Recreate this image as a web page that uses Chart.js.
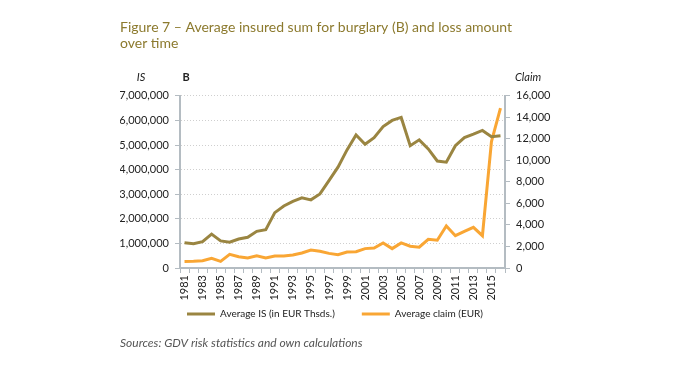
<!DOCTYPE html>
<html><head><meta charset="utf-8">
<script src="https://cdn.jsdelivr.net/npm/chart.js@4/dist/chart.umd.min.js"></script>
<style>html,body{margin:0;padding:0;background:#fff}#wrap{width:674px;height:380px}</style>
</head><body><div id="wrap"><canvas id="c" width="674" height="380"></canvas></div>
<script>
const years = ['1981','1982','1983','1984','1985','1986','1987','1988','1989','1990','1991','1992','1993','1994','1995','1996','1997','1998','1999','2000','2001','2002','2003','2004','2005','2006','2007','2008','2009','2010','2011','2012','2013','2014','2015','2016'];
const averageIS = [1030000,990000,1070000,1380000,1100000,1050000,1180000,1250000,1490000,1560000,2250000,2520000,2710000,2850000,2770000,3010000,3550000,4100000,4800000,5410000,5030000,5300000,5750000,6000000,6120000,4970000,5210000,4840000,4350000,4300000,4970000,5300000,5440000,5590000,5340000,5380000];
const averageClaim = [600,620,680,900,620,1270,1050,930,1140,930,1120,1120,1210,1400,1670,1550,1360,1240,1490,1520,1800,1860,2330,1800,2330,2020,1930,2670,2580,3900,3000,3410,3780,3000,11750,14850];
const seriesNames = ['Average IS (in EUR Thsds.)','Average claim (EUR)'];
const titleLines = ['Figure 7 \u2013 Average insured sum for burglary (B) and loss amount','over time'];
const sourceText = 'Sources: GDV risk statistics and own calculations';
const leftTicks = {max:7000000, step:1000000};
const rightTicks = {max:16000, step:2000};

const FONT = 'Lato, "Open Sans", sans-serif';
const fmt = v => Number(v).toLocaleString('en-US');

const extraText = {
  id:'extraText',
  afterDraw(chart){
    const ctx = chart.ctx;
    ctx.save();
    ctx.fillStyle = '#222';
    ctx.textBaseline = 'middle';
    ctx.font = 'italic 11px ' + FONT;
    ctx.textAlign = 'center';
    ctx.fillText('IS', 141, 77);
    ctx.fillText('Claim', 528, 77);
    ctx.font = 'bold 11px ' + FONT;
    ctx.fillText('B', 186, 77);
    ctx.textAlign = 'left';
    ctx.fillStyle = '#555';
    ctx.font = 'italic 12px ' + FONT;
    ctx.fillText(sourceText, 120, 343);
    ctx.restore();
  }
};

// nudge the legend box up/left so it sits right under the rotated year labels
const legendNudge = {
  id:'legendNudge',
  afterLayout(chart){
    const l = chart.legend; if (!l) return;
    const dx = 14, dy = 20;
    l.left -= dx; l.right -= dx; l.top -= dy; l.bottom -= dy;
  }
};

new Chart(document.getElementById('c'), {
  type:'line',
  data:{
    labels: years,
    datasets:[
      {label:seriesNames[0], data:averageIS, yAxisID:'y', borderColor:'#9a8541', backgroundColor:'#9a8541', borderWidth:3, pointRadius:0, tension:0},
      {label:seriesNames[1], data:averageClaim, yAxisID:'y1', borderColor:'#f9a634', backgroundColor:'#f9a634', borderWidth:3, pointRadius:0, tension:0}
    ]
  },
  options:{
    responsive:false, animation:false,
    layout:{padding:{left:120, right:96, top:0, bottom:34}},
    plugins:{
      title:{display:true, text:titleLines, align:'start', color:'#8c7a2e', font:{family:FONT, size:14, weight:'normal', lineHeight:1.1}, padding:{top:20, bottom:45}},
      legend:{display:true, position:'bottom', maxHeight:44, labels:{usePointStyle:true, pointStyle:'line', pointStyleWidth:28, color:'#222', font:{family:FONT, size:10}, padding:27}},
      tooltip:{enabled:false}
    },
    scales:{
      x:{
        offset:true,
        afterFit(s){ s.height = 34; },
        grid:{offset:true, drawOnChartArea:false, drawTicks:true, tickLength:5, color:'#b4bcc2', lineWidth:1},
        border:{color:'#b4bcc2', width:2},
        ticks:{autoSkip:false, maxRotation:90, minRotation:90, color:'#222', font:{family:FONT, size:11}, padding:2,
          callback:function(v,i){ return i%2===0 ? this.getLabelForValue(v) : ''; }}
      },
      y:{
        position:'left', min:0, max:leftTicks.max,
        afterFit(s){ s.width = 60; },
        grid:{color:'#cfcfcf', lineWidth:1, tickLength:5, tickColor:'#b4bcc2', drawTicks:true},
        border:{color:'#b4bcc2', width:2, dash:[1,2]},
        ticks:{stepSize:leftTicks.step, color:'#222', font:{family:FONT, size:11}, padding:6, callback:v=>fmt(v)}
      },
      y1:{
        position:'right', min:0, max:rightTicks.max,
        afterFit(s){ s.width = 73; },
        grid:{drawOnChartArea:false, tickLength:5, color:'#b4bcc2'},
        border:{color:'#b4bcc2', width:2},
        ticks:{stepSize:rightTicks.step, color:'#222', font:{family:FONT, size:11}, padding:6, callback:v=>fmt(v)}
      }
    }
  },
  plugins:[extraText, legendNudge]
});
</script></body></html>
